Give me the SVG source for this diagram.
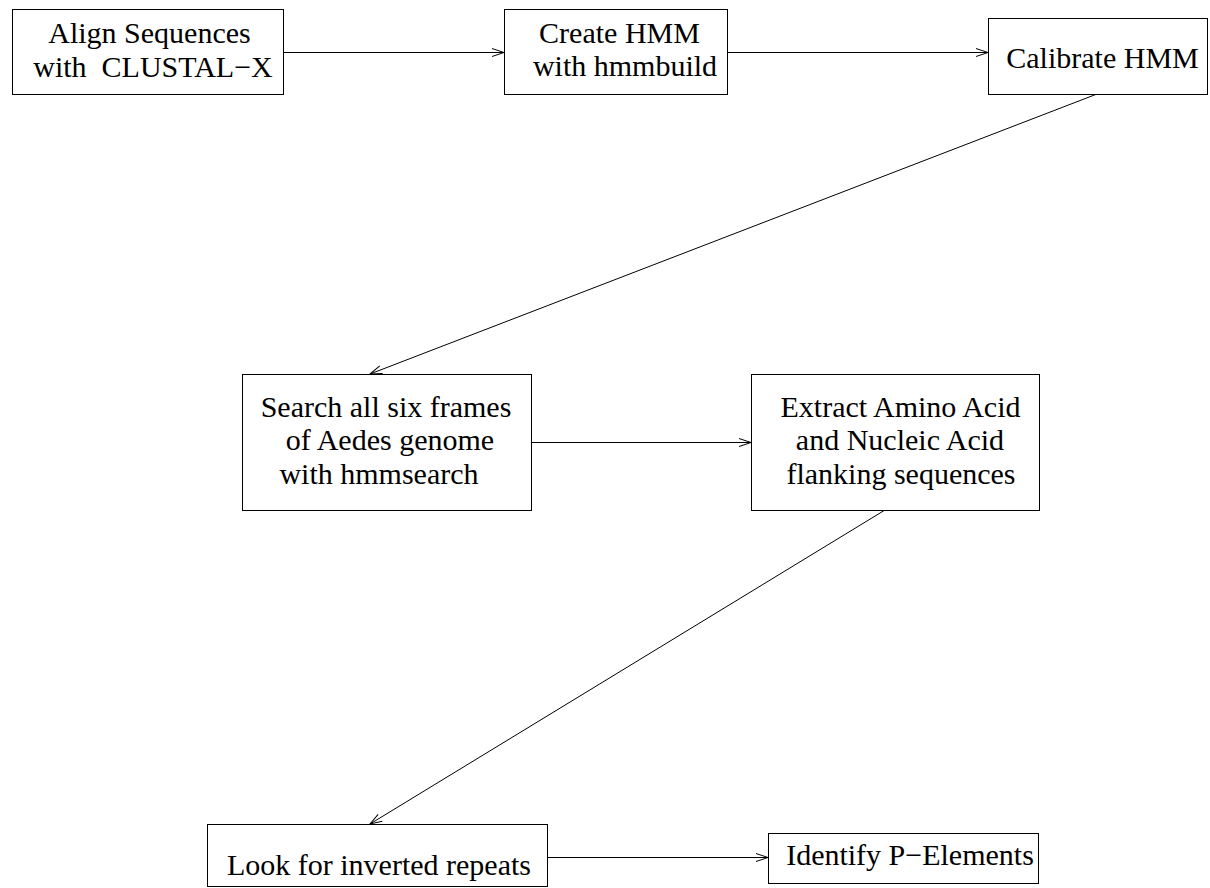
<svg xmlns="http://www.w3.org/2000/svg" width="1210" height="888" viewBox="0 0 1210 888">
<style>
.box{fill:#fff;stroke:#000;stroke-width:1}
.lbl{font-family:"Liberation Serif","Times New Roman",serif;font-size:30px;fill:#000;text-anchor:middle}
.edge{fill:none;stroke:#000;stroke-width:1;marker-end:url(#arr)}
</style>
<defs>
<marker id="arr" markerUnits="userSpaceOnUse" markerWidth="14" markerHeight="10" viewBox="-1 -1 14 10" refX="12" refY="4" orient="auto">
<path d="M0,0 L12,4 L0,8" fill="none" stroke="#000" stroke-width="1"/>
</marker>
</defs>
<rect width="1210" height="888" fill="#fff"/>
<g id="edges">
<line class="edge" x1="284" y1="52.5" x2="504" y2="52.5"/>
<line class="edge" x1="727" y1="52.5" x2="988" y2="52.5"/>
<line class="edge" x1="1097" y1="94" x2="370" y2="374"/>
<line class="edge" x1="531" y1="442.5" x2="751" y2="442.5"/>
<line class="edge" x1="885" y1="510" x2="370" y2="824"/>
<line class="edge" x1="547" y1="857.5" x2="768" y2="857.5"/>
</g>
<g id="n1">
<rect class="box" x="12.5" y="9.5" width="271" height="85"/>
<text class="lbl" x="149.5" y="43">Align Sequences</text>
<text class="lbl" x="153" y="77" xml:space="preserve">with  CLUSTAL−X</text>
</g>
<g id="n2">
<rect class="box" x="504.5" y="9.5" width="223" height="85"/>
<text class="lbl" x="619.5" y="43">Create HMM</text>
<text class="lbl" x="625" y="76">with hmmbuild</text>
</g>
<g id="n3">
<rect class="box" x="988.5" y="18.5" width="219" height="76"/>
<text class="lbl" x="1102.5" y="68">Calibrate HMM</text>
</g>
<g id="n4">
<rect class="box" x="242.5" y="374.5" width="289" height="136"/>
<text class="lbl" x="386" y="417">Search all six frames</text>
<text class="lbl" x="390" y="450">of Aedes genome</text>
<text class="lbl" x="379" y="484">with hmmsearch</text>
</g>
<g id="n5">
<rect class="box" x="751.5" y="374.5" width="288" height="136"/>
<text class="lbl" x="900.5" y="417">Extract Amino Acid</text>
<text class="lbl" x="900" y="450">and Nucleic Acid</text>
<text class="lbl" x="901" y="484">flanking sequences</text>
</g>
<g id="n6">
<rect class="box" x="207.5" y="824.5" width="340" height="62"/>
<text class="lbl" x="379" y="875">Look for inverted repeats</text>
</g>
<g id="n7">
<rect class="box" x="768.5" y="833.5" width="270" height="50"/>
<text class="lbl" x="910" y="865">Identify P−Elements</text>
</g>
</svg>
